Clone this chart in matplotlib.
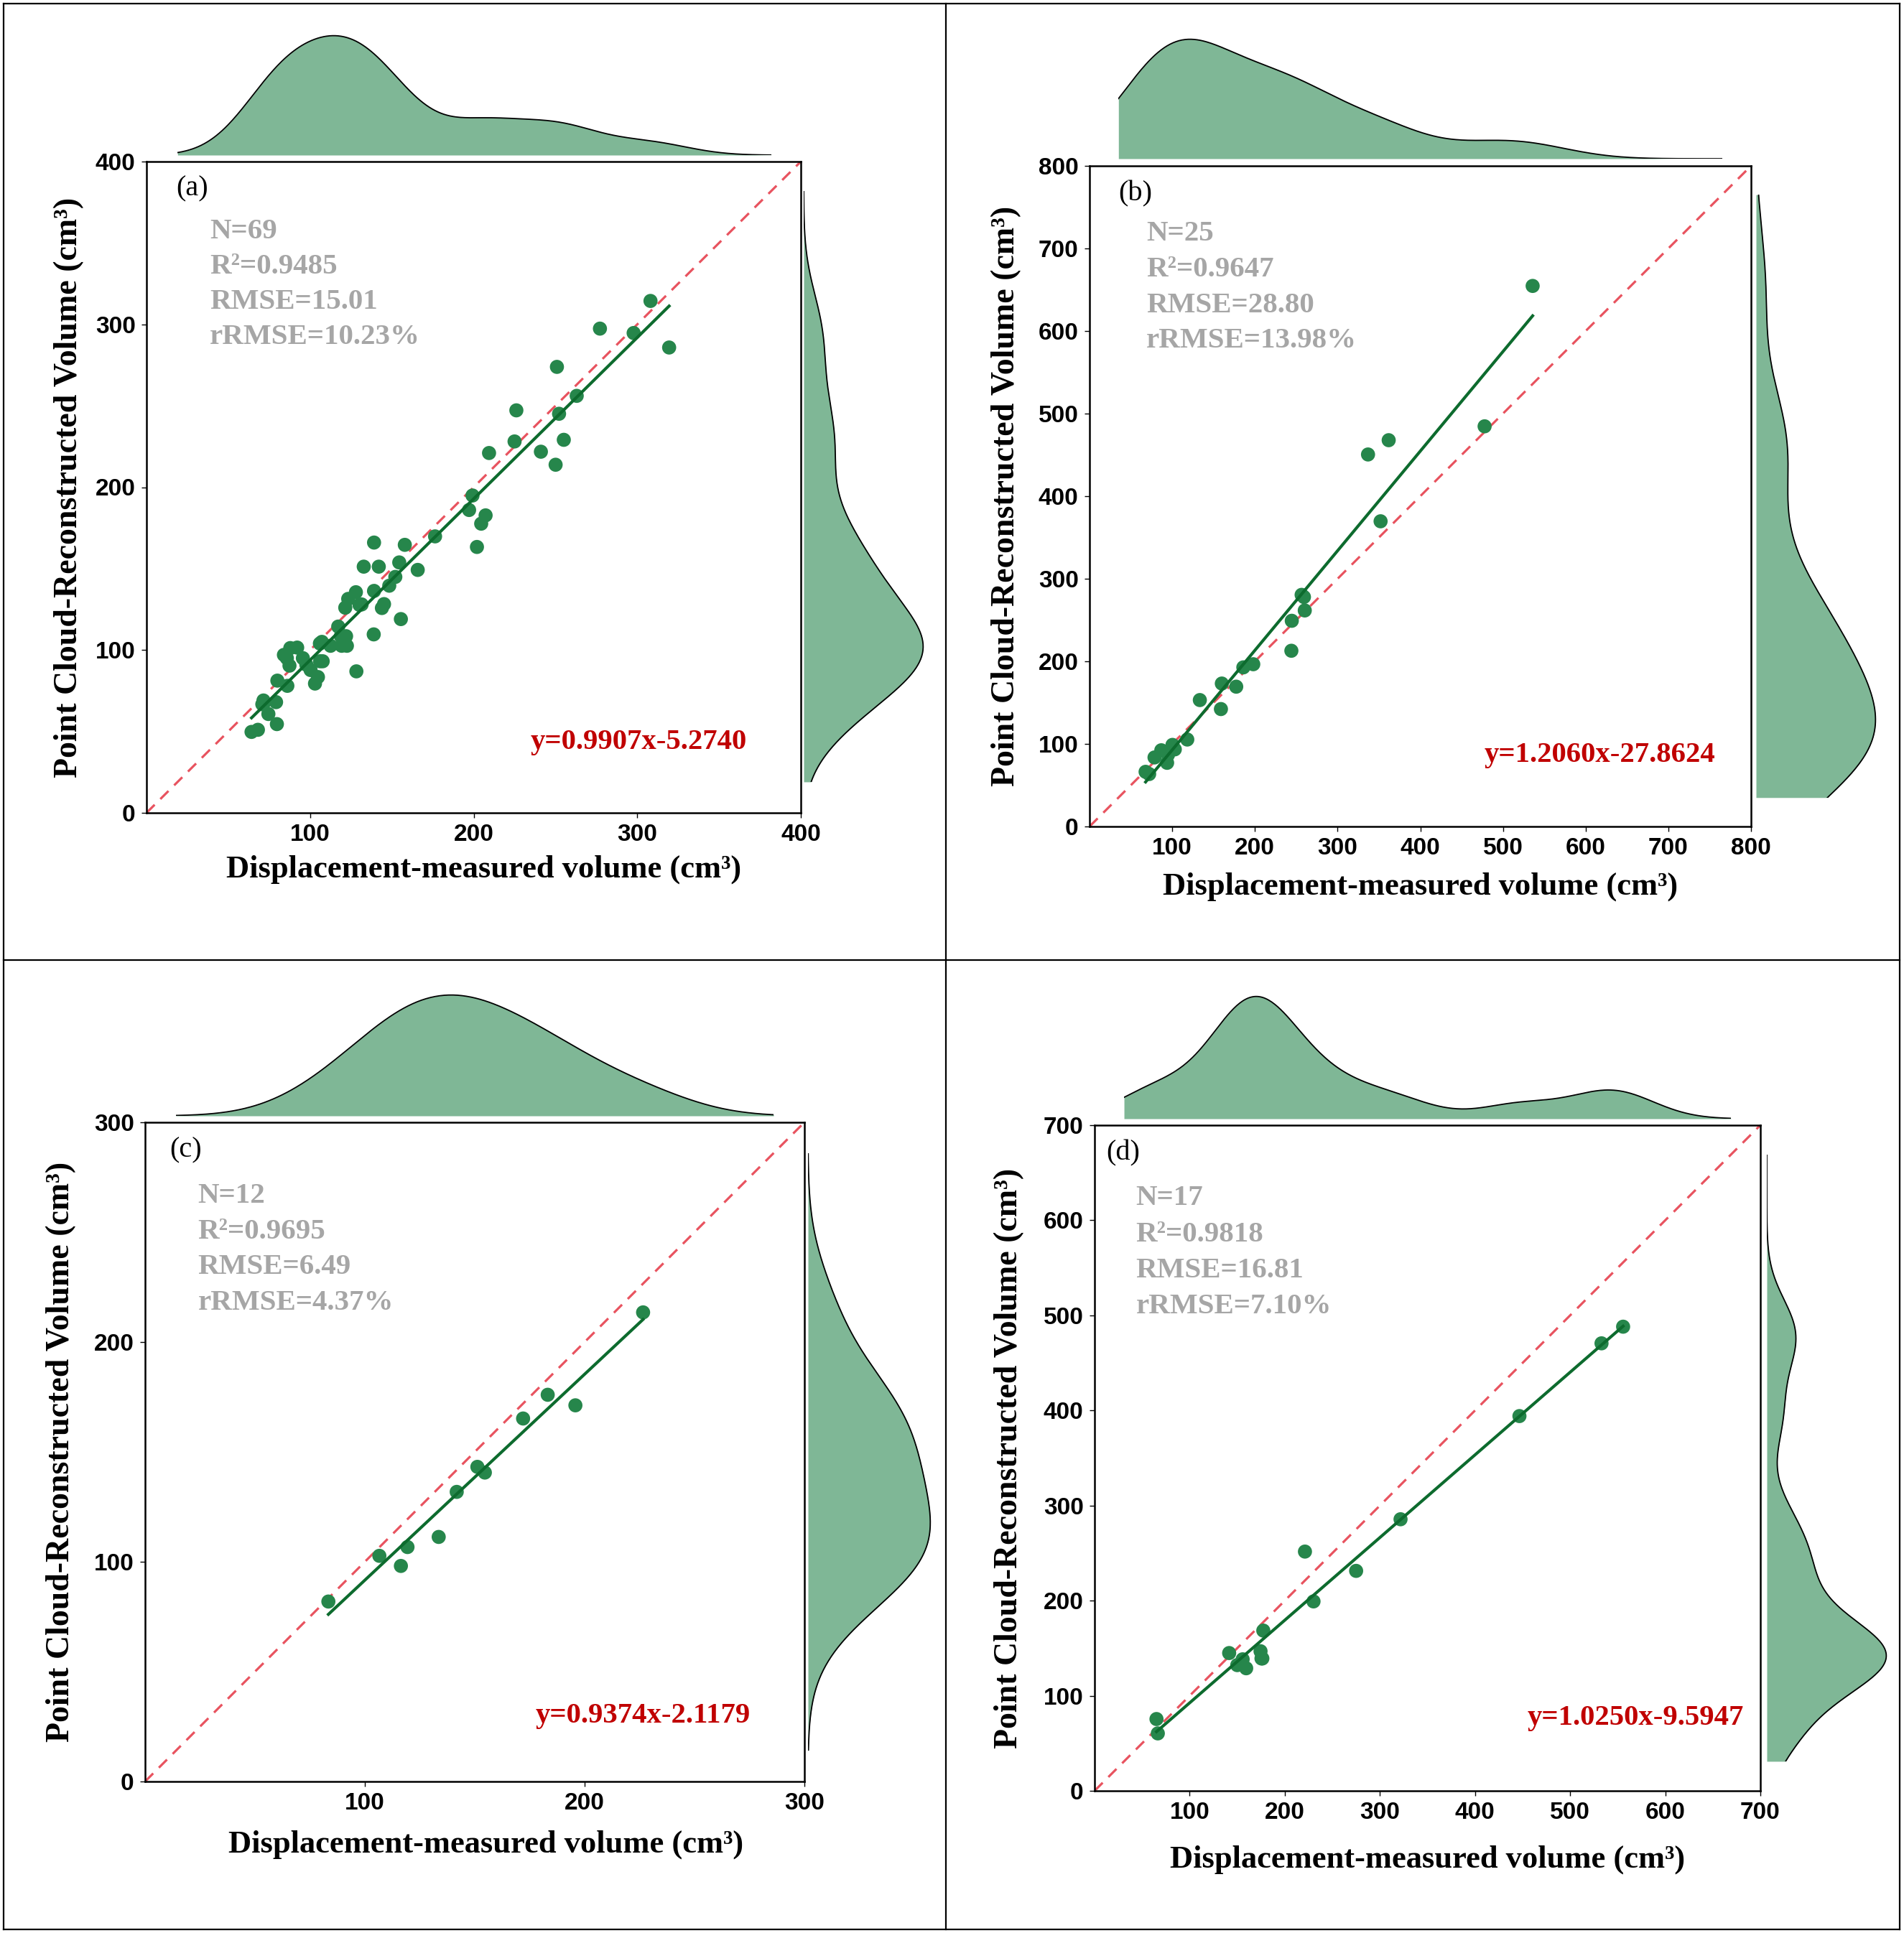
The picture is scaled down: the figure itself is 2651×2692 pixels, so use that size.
import numpy as np
import matplotlib
matplotlib.use('Agg')
import matplotlib.pyplot as plt
from matplotlib.lines import Line2D

# ---- data ----
a_x = [64.2, 68.1, 71.8, 74.5, 79.2, 79.7, 70.8, 80.0, 86.1, 85.8, 87.9, 87.4, 92.1, 95.6,
       97.7, 100.3, 103.0, 104.8, 106.1, 107.2, 107.7, 112.5, 117.2, 118.8, 119.3, 122.5,
       122.0, 121.5, 123.3, 128.0, 128.3, 130.2, 131.5, 132.8, 139.1, 139.1, 138.9, 142.0,
       143.9, 145.2, 148.4, 152.1, 154.5, 155.5, 157.9, 165.8, 176.4, 197.2, 199.3, 202.0,
       204.6, 207.3, 209.4, 225.0, 226.1, 241.1, 250.1, 250.9, 252.2, 255.1, 263.0, 277.2,
       297.8, 308.1, 319.5, 71.5, 84.0, 106.0, 121.0]
a_y = [49.7, 51.0, 67.5, 60.7, 68.0, 54.5, 66.7, 81.2, 78.0, 95.0, 101.2, 90.4, 101.5, 95.0,
       91.0, 87.7, 79.4, 83.4, 93.1, 105.0, 93.1, 102.6, 114.4, 108.5, 102.6, 102.6,
       108.5, 126.0, 131.4, 135.5, 86.9, 127.7, 128.0, 151.2, 166.0, 136.3, 109.6, 151.2,
       125.8, 128.2, 139.5, 144.9, 153.8, 119.0, 164.6, 149.2, 169.8, 186.0, 194.9, 163.3,
       177.6, 182.7, 221.0, 228.1, 247.2, 221.8, 213.8, 273.9, 245.1, 229.1, 256.1, 297.4,
       294.7, 314.4, 285.8, 69.0, 97.0, 104.0, 108.0]

b_x = [67.8, 72.1, 78.6, 86.8, 93.8, 94.9, 100.3, 103.1, 118.2, 133.4, 158.9, 160.0, 177.4,
       186.0, 198.0, 244.1, 244.6, 256.5, 259.3, 260.3, 336.8, 352.0, 361.8, 477.8, 535.9]
b_y = [66.2, 63.5, 83.6, 92.3, 77.1, 86.8, 98.8, 93.4, 105.3, 153.1, 142.2, 173.1, 169.3,
       192.7, 196.5, 212.8, 249.1, 280.5, 277.9, 261.6, 450.5, 369.6, 467.8, 484.6, 654.6]

c_x = [83.4, 106.6, 116.4, 119.4, 133.6, 141.8, 151.2, 154.6, 172.0, 183.2, 195.8, 226.6]
c_y = [81.9, 102.7, 98.1, 106.7, 111.3, 131.8, 143.2, 140.6, 165.2, 176.0, 171.2, 213.5]

d_x = [65.1, 66.5, 141.5, 150.0, 155.7, 159.4, 174.5, 175.5, 176.4, 177.4, 221.2, 230.2,
       275.0, 321.7, 446.7, 533.0, 555.7]
d_y = [75.5, 60.4, 144.9, 132.2, 138.3, 128.9, 146.8, 139.2, 139.2, 168.5, 251.6, 199.2,
       231.3, 285.6, 394.1, 470.6, 488.1]

labels = ['(a)', '(b)', '(c)', '(d)']
stats = [['N=69', 'R²=0.9485', 'RMSE=15.01', 'rRMSE=10.23%'],
         ['N=25', 'R²=0.9647', 'RMSE=28.80', 'rRMSE=13.98%'],
         ['N=12', 'R²=0.9695', 'RMSE=6.49', 'rRMSE=4.37%'],
         ['N=17', 'R²=0.9818', 'RMSE=16.81', 'rRMSE=7.10%']]
slopes = [0.9907, 1.2060, 0.9374, 1.0250]
intercepts = [-5.2740, -27.8624, -2.1179, -9.5947]
# panel (d) draws the least-squares line of its points, not the printed equation
use_printed_fit = [True, True, True, False]
limits = [400, 800, 300, 700]
xticks = [[100, 200, 300, 400], [100, 200, 300, 400, 500, 600, 700, 800],
          [100, 200, 300], [100, 200, 300, 400, 500, 600, 700]]
yticks = [[0, 100, 200, 300, 400], [0, 100, 200, 300, 400, 500, 600, 700, 800],
          [0, 100, 200, 300], [0, 100, 200, 300, 400, 500, 600, 700]]
kde_range = [(19, 382), (35, 765), (14, 286), (31, 669)]
bw_adjust = [0.8, 0.85, 1.0, 0.5]

xs = [a_x, b_x, c_x, d_x]
ys = [a_y, b_y, c_y, d_y]

# ---- layout (pixels) ----
W, H = 2651, 2692
boxes = [(204, 225, 1115, 1132), (1517, 231, 2438, 1151),
         (202, 1563, 1120, 2481), (1524, 1567, 2451, 2494)]
top_gap = [9, 10, 9, 9]
top_h = [168, 168, 170, 172]
right_gap = [4, 7, 5, 9]
right_w = [168, 168, 172, 168]
text_x = [0.097, 0.086, 0.080, 0.062]
text_y0 = [0.892, 0.897, 0.888, 0.890]
lab_x = [0.045, 0.044, 0.037, 0.018]
eq_x = [0.9175, 0.946, 0.918, 0.975]
eq_y = [0.109, 0.1085, 0.10, 0.11]
ylab_x = [-0.095, -0.103, -0.105, -0.106]
xlab_y = [-0.064, -0.069, -0.074, -0.081]
xlab_x = [0.515, 0.5, 0.517, 0.5]

SERIF = 'Liberation Serif'
SANS = 'Liberation Sans'
fill_c = '#7fb796'
pt_c = '#26864b'
fit_c = '#0d6b2e'
diag_c = '#e8535f'


def px_rect(l, t, r, b):
    return [l / W, 1 - b / H, (r - l) / W, (b - t) / H]


def kde(vals, grid, adj):
    v = np.asarray(vals)
    bw = adj * v.std(ddof=1) * len(v) ** (-1 / 5)
    z = (grid[:, None] - v[None, :]) / bw
    return np.exp(-0.5 * z ** 2).sum(axis=1) / (len(v) * bw * np.sqrt(2 * np.pi))


fig = plt.figure(figsize=(W / 100, H / 100), dpi=100)

for i in range(4):
    l, t, r, b = boxes[i]
    L = limits[i]
    x = np.array(xs[i])
    y = np.array(ys[i])
    ax = fig.add_axes(px_rect(l, t, r, b))
    ax.set_xlim(0, L)
    ax.set_ylim(0, L)
    ax.plot([0, L], [0, L], color=diag_c, lw=2.3, dashes=(5, 3.5), zorder=1)
    ax.scatter(x, y, s=200, color=pt_c, edgecolors='none', zorder=3)
    if use_printed_fit[i]:
        k, c0 = slopes[i], intercepts[i]
    else:
        k, c0 = np.polyfit(x, y, 1)
    fx = np.array([x.min(), x.max()])
    ax.plot(fx, k * fx + c0, color=fit_c, lw=3.0, zorder=4)

    ax.set_xticks(xticks[i])
    ax.set_yticks(yticks[i])
    ax.tick_params(direction='out', length=5, width=1, pad=6, labelsize=24)
    for lab in ax.get_xticklabels() + ax.get_yticklabels():
        lab.set_fontfamily(SANS)
        lab.set_fontweight('bold')
    for sp in ax.spines.values():
        sp.set_linewidth(1.8)

    ax.set_xlabel('Displacement-measured volume (cm³)', fontfamily=SERIF,
                  fontweight='bold', fontsize=32)
    ax.set_ylabel('Point Cloud-Reconstructed Volume (cm³)', fontfamily=SERIF,
                  fontweight='bold', fontsize=33)
    ax.xaxis.set_label_coords(xlab_x[i], xlab_y[i])
    ax.yaxis.set_label_coords(ylab_x[i], 0.5)

    ax.text(lab_x[i], 0.958, labels[i], transform=ax.transAxes, fontfamily=SERIF,
            fontsize=29, ha='left', va='center')
    for n, s in enumerate(stats[i]):
        ax.text(text_x[i], text_y0[i] - 0.054 * n, s, transform=ax.transAxes,
                fontfamily=SERIF, fontweight='bold', fontsize=29.5, color='#a6a6a6',
                ha='left', va='center')
    sign = '-' if intercepts[i] < 0 else '+'
    eq = 'y=%.4fx%s%.4f' % (slopes[i], sign, abs(intercepts[i]))
    ax.text(eq_x[i], eq_y[i], eq, transform=ax.transAxes, fontfamily=SERIF,
            fontweight='bold', fontsize=29.3, color='#c00000', ha='right', va='center')

    # marginal densities
    lo, hi = kde_range[i]
    sx = (r - l) / L
    sy = (b - t) / L
    grid = np.linspace(lo, hi, 400)

    dx = kde(x, grid, bw_adjust[i])
    axt = fig.add_axes(px_rect(l + lo * sx, t - top_gap[i] - top_h[i],
                               l + hi * sx, t - top_gap[i]))
    axt.fill_between(grid, 0, dx, color=fill_c, lw=0)
    axt.plot(grid, dx, color='black', lw=1.3)
    axt.set_xlim(lo, hi)
    axt.set_ylim(0, dx.max() * 1.01)
    axt.axis('off')

    dy = kde(y, grid, bw_adjust[i])
    axr = fig.add_axes(px_rect(r + right_gap[i], b - hi * sy,
                               r + right_gap[i] + right_w[i], b - lo * sy))
    axr.fill_betweenx(grid, 0, dy, color=fill_c, lw=0)
    axr.plot(dy, grid, color='black', lw=1.3)
    axr.set_ylim(lo, hi)
    axr.set_xlim(0, dy.max() * 1.01)
    axr.axis('off')

# frame and dividers
for xa, ya in [([5, 2645], [5, 5]), ([5, 2645], [2687, 2687]), ([5, 5], [5, 2687]),
               ([2645, 2645], [5, 2687]), ([1317, 1317], [5, 2687]), ([5, 2645], [1337, 1337])]:
    fig.add_artist(Line2D([v / W for v in xa], [1 - v / H for v in ya],
                          color='black', lw=1.6))

fig.savefig('out.png', dpi=100)
